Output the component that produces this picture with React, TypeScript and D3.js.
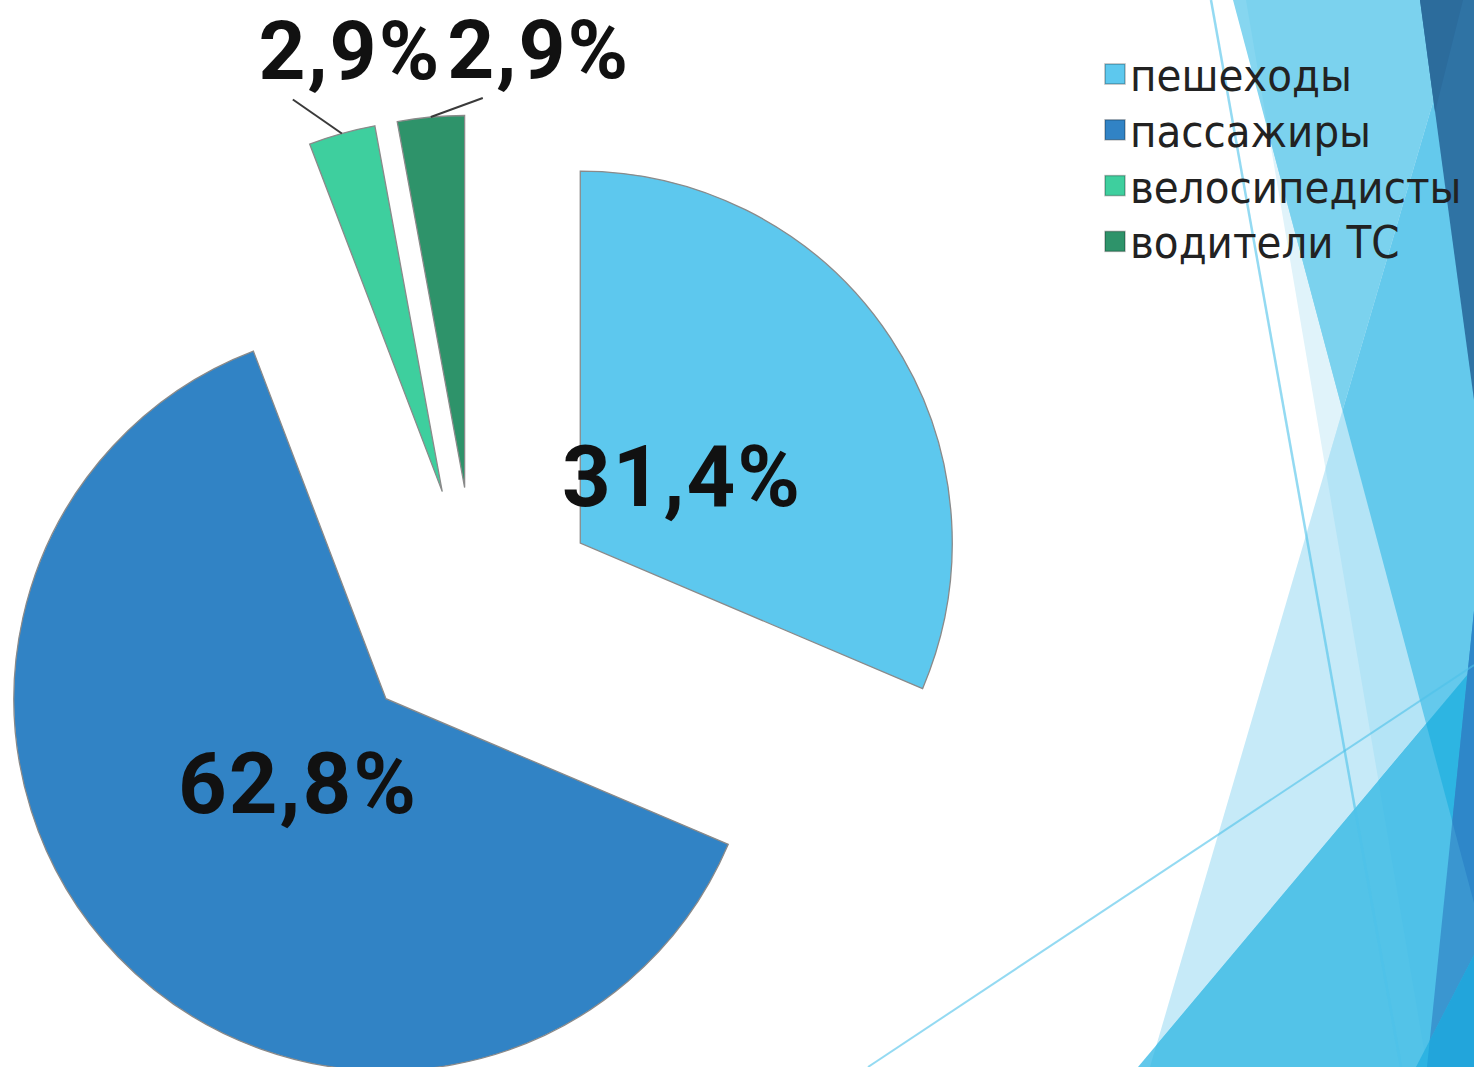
import React from "react";
import * as d3 from "d3";

// ---- data ----
const categories = ["пешеходы", "пассажиры", "велосипедисты", "водители ТС"];
const values = [31.4, 62.8, 2.9, 2.9];
const valueLabels = ["31,4%", "62,8%", "2,9%", "2,9%"];
const sliceColors = ["#5DC8EE", "#3183C5", "#3ECF9E", "#2E936A"];

// ---- layout ----
const W = 1474;
const H = 1067;
const CX = 476;
const CY = 612;
const R = 372;
const EXPLODE = 125;
const INSIDE_LABEL_DIST = 122;
// offsets for labels of small slices (leader end, label centre/baseline) relative to arc midpoint
const outsideLeader: [number, number][] = [[-49, -34], [52, -19]];
const outsideLabel: [number, number][] = [[8, -54], [108, -39]];

// theme decoration polygons (background)
type Pt = [number, number];
const T4: Pt[] = [[1246, 0], [W, 0], [W, H], [1427, H]];
const T2: Pt[] = [[1233, 0], [W, 0], [W, 903]];
const T1: Pt[] = [[1463, 0], [W, 0], [W, H], [1150, H]];
const T3: Pt[] = [[W, 667], [W, H], [1138, H]];
const COL: Pt[] = [[W, 611], [W, H], [1427, H]];
const E: Pt[] = [[W, 955], [W, H], [1416, H]];
const D1: Pt[] = [[1420, 0], [W, 0], [W, 400]];
const D1a: Pt[] = [[1420, 0], [1463, 0], [1435, 112]];

const pts = (p: Pt[]) => p.map((q) => q.join(",")).join(" ");

const labelFont = "Roboto, 'Open Sans', sans-serif";

export default function App() {
  const pie = d3
    .pie<number>()
    .sort(null)
    .value((d) => d)
    .startAngle(0)
    .endAngle(2 * Math.PI);
  const arcs = pie(values);
  const arc = d3.arc<d3.PieArcDatum<number>>().innerRadius(0).outerRadius(R);

  let outsideIdx = 0;

  return (
    <svg
      width={W}
      height={H}
      style={{ position: "absolute", left: 0, top: 0, background: "#fff" }}
      xmlns="http://www.w3.org/2000/svg"
    >
      <defs>
        <clipPath id="cT4"><polygon points={pts(T4)} /></clipPath>
        <clipPath id="cT2"><polygon points={pts(T2)} /></clipPath>
        <clipPath id="cT1"><polygon points={pts(T1)} /></clipPath>
        <clipPath id="cCOL"><polygon points={pts(COL)} /></clipPath>
      </defs>
      <rect x={0} y={0} width={W} height={H} fill="#fff" />
      {/* background decoration */}
      <g>
        <polygon points={pts(T4)} fill="#E0F3FA" />
        <polygon points={pts(T2)} fill="#86D6F0" />
        <polygon points={pts(T2)} fill="#7BD2EE" clipPath="url(#cT4)" />
        <polygon points={pts(T1)} fill="#C6EAF8" />
        <polygon points={pts(T1)} fill="#B4E4F6" clipPath="url(#cT4)" />
        <polygon points={pts(T1)} fill="#64C9EC" clipPath="url(#cT2)" />
        <polygon points={pts(T3)} fill="#62C8EB" />
        <polygon points={pts(T3)} fill="#53C3E8" clipPath="url(#cT1)" />
        <polygon points={pts(T3)} fill="#4FC1E8" clipPath="url(#cT4)" />
        <polygon points={pts(T3)} fill="#2DB5E2" clipPath="url(#cT2)" />
        <polygon points={pts(COL)} fill="#3A96D0" />
        <polygon points={pts(COL)} fill="#2E87C9" clipPath="url(#cT2)" />
        <polygon points={pts(E)} fill="#2DB3E2" />
        <polygon points={pts(E)} fill="#22A5DB" clipPath="url(#cCOL)" />
        <polygon points={pts(D1)} fill="#2F73A4" />
        <polygon points={pts(D1a)} fill="#2C6C9C" />
        <line x1={1211} y1={0} x2={1401} y2={H} stroke="#4CC1EA" strokeOpacity={0.6} strokeWidth={2.5} />
        <line x1={868} y1={H} x2={W} y2={665} stroke="#4CC1EA" strokeOpacity={0.6} strokeWidth={2} />
      </g>

      {/* pie */}
      <g>
        {arcs.map((a, i) => {
          const mid = (a.startAngle + a.endAngle) / 2;
          const ux = Math.sin(mid);
          const uy = -Math.cos(mid);
          const ox = CX + ux * EXPLODE;
          const oy = CY + uy * EXPLODE;
          return (
            <g key={categories[i]} transform={`translate(${ox},${oy})`}>
              <path d={arc(a) || ""} fill={sliceColors[i]} stroke="#8a8a8a" strokeWidth={1.3} />
            </g>
          );
        })}
        {arcs.map((a, i) => {
          const mid = (a.startAngle + a.endAngle) / 2;
          const ux = Math.sin(mid);
          const uy = -Math.cos(mid);
          const ox = CX + ux * EXPLODE;
          const oy = CY + uy * EXPLODE;
          if (values[i] >= 10) {
            const lx = ox + ux * INSIDE_LABEL_DIST;
            const ly = oy + uy * INSIDE_LABEL_DIST;
            return (
              <text
                key={"l" + i}
                x={lx}
                y={ly + 30}
                textAnchor="middle"
                fontFamily={labelFont}
                fontWeight={700}
                fontSize={85}
                letterSpacing={2}
                fill="#111"
              >
                {valueLabels[i]}
              </text>
            );
          }
          const k = outsideIdx++;
          const mx = ox + ux * R;
          const my = oy + uy * R;
          const [lx, ly] = outsideLeader[k];
          const [tx, ty] = outsideLabel[k];
          return (
            <g key={"l" + i}>
              <line x1={mx} y1={my} x2={mx + lx} y2={my + ly} stroke="#3a3a3a" strokeWidth={2} />
              <text
                x={mx + tx}
                y={my + ty}
                textAnchor="middle"
                fontFamily={labelFont}
                fontWeight={700}
                fontSize={82}
                letterSpacing={2}
                fill="#111"
              >
                {valueLabels[i]}
              </text>
            </g>
          );
        })}
      </g>

      {/* legend */}
      <g transform="translate(1105,64)">
        {categories.map((c, i) => (
          <g key={c} transform={`translate(0,${i * 55.8})`}>
            <rect x={0} y={0} width={20} height={20} fill={sliceColors[i]} stroke="rgba(0,0,0,0.28)" strokeWidth={1.5} />
            <text
              x={25}
              y={27}
              fontFamily="'DejaVu Sans Condensed', 'DejaVu Sans', sans-serif"
              fontSize={45}
              fill="#222"
            >
              {c}
            </text>
          </g>
        ))}
      </g>
    </svg>
  );
}
